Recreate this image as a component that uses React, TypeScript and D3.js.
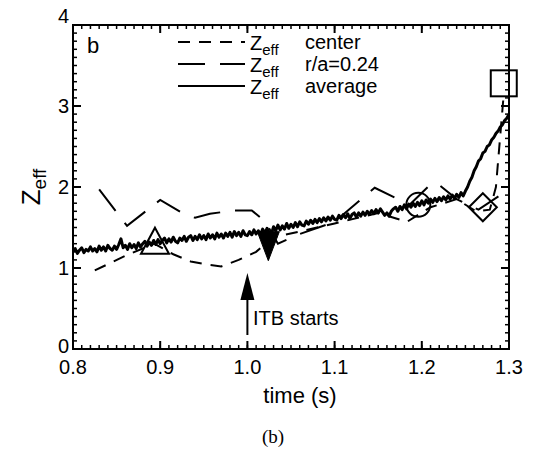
import React from "react";
import * as d3 from "d3";

const avgT = d3.range(0, 201).map((i) => +(0.8 + i * 0.0025).toFixed(4));
const avgZ = [
  1.2, 1.24, 1.18, 1.22, 1.25, 1.19, 1.23, 1.21, 1.26, 1.21,
  1.24, 1.2, 1.27, 1.22, 1.26, 1.21, 1.28, 1.24, 1.22, 1.27,
  1.23, 1.29, 1.36, 1.25, 1.28, 1.23, 1.3, 1.25, 1.29, 1.24,
  1.31, 1.26, 1.3, 1.33, 1.27, 1.32, 1.28, 1.34, 1.29, 1.35,
  1.3, 1.34, 1.37, 1.31, 1.36, 1.32, 1.38, 1.33, 1.31, 1.37,
  1.34, 1.39, 1.33, 1.38, 1.4, 1.34, 1.39, 1.35, 1.41, 1.36,
  1.4, 1.35, 1.42, 1.37, 1.41, 1.36, 1.43, 1.38, 1.42, 1.37,
  1.43, 1.39, 1.44, 1.38, 1.45, 1.4, 1.44, 1.39, 1.46, 1.41,
  1.4, 1.45, 1.41, 1.47, 1.42, 1.46, 1.41, 1.48, 1.43, 1.49,
  1.44, 1.42, 1.51, 1.46, 1.53, 1.47, 1.52, 1.48, 1.55, 1.49,
  1.54, 1.5, 1.56, 1.51, 1.57, 1.53, 1.52, 1.58, 1.54, 1.59,
  1.55, 1.6, 1.56, 1.61, 1.57, 1.62, 1.58, 1.63, 1.59, 1.64,
  1.6, 1.59, 1.65, 1.61, 1.66, 1.62, 1.67, 1.61, 1.66, 1.68,
  1.63, 1.68, 1.64, 1.69, 1.65, 1.7, 1.66, 1.71, 1.67, 1.72,
  1.68, 1.73, 1.69, 1.65, 1.68, 1.64, 1.7, 1.73, 1.75, 1.7,
  1.76, 1.72, 1.78, 1.73, 1.79, 1.75, 1.8, 1.76, 1.81, 1.77,
  1.83, 1.78, 1.84, 1.8, 1.85, 1.81, 1.86, 1.82, 1.87, 1.83,
  1.88, 1.84, 1.89, 1.85, 1.9, 1.86, 1.91, 1.87, 1.93, 1.89,
  1.95, 2.0, 2.07, 2.12, 2.2, 2.25, 2.32, 2.35, 2.42, 2.44,
  2.5, 2.52, 2.58, 2.61, 2.66, 2.69, 2.74, 2.77, 2.82, 2.85,
  2.9,
];

const raT = [0.83, 0.862, 0.9, 0.925, 0.94, 0.957, 0.985, 1.005, 1.02, 1.035, 1.06, 1.1, 1.146, 1.186, 1.207, 1.217, 1.24, 1.265, 1.3];
const raZ = [1.97, 1.52, 1.84, 1.68, 1.62, 1.67, 1.71, 1.71, 1.58, 1.3, 1.42, 1.57, 1.99, 1.78, 2.0, 2.05, 1.85, 1.72, 1.97];

const cenT = [0.825, 0.86, 0.893, 0.915, 0.935, 0.955, 0.97, 0.99, 1.01, 1.03, 1.06, 1.1, 1.15, 1.183, 1.21, 1.24, 1.262, 1.278, 1.285, 1.294];
const cenZ = [0.97, 1.15, 1.3, 1.17, 1.08, 1.04, 1.02, 1.1, 1.2, 1.38, 1.45, 1.55, 1.68, 1.57, 1.75, 1.85, 1.7, 1.72, 2.0, 3.15];

const markerT = [0.894, 1.024, 1.196, 1.27, 1.294];
const markerZ = [1.3, 1.3, 1.78, 1.75, 3.28];
const markerShape = ["triangle", "triangleDownFilled", "circle", "diamond", "square"];

const xTicks = [0.8, 0.9, 1.0, 1.1, 1.2, 1.3];
const xTickLabels = ["0.8", "0.9", "1.0", "1.1", "1.2", "1.3"];
const yTicks = [0, 1, 2, 3, 4];
const yTickLabels = ["0", "1", "2", "3", "4"];

const legendNames = ["center", "r/a=0.24", "average"];

const W = 547, H = 451;
const L = 73, R = 509, T = 25, B = 349;

export default function App() {
  const x = d3.scaleLinear().domain([0.8, 1.3]).range([L, R]);
  const y = d3.scaleLinear().domain([0, 4]).range([B, T]);
  const line = d3.line<[number, number]>().x((d) => x(d[0])).y((d) => y(d[1]));
  const avgPts = avgT.map((t, i) => [t, avgZ[i]] as [number, number]);
  const raPts = raT.map((t, i) => [t, raZ[i]] as [number, number]);
  const cenPts = cenT.map((t, i) => [t, cenZ[i]] as [number, number]);
  const font = "'Liberation Sans', Arial, Helvetica, sans-serif";
  const xMinor = d3.range(0, 51).map((i) => 0.8 + i * 0.01);
  const yMinor = d3.range(0, 41).map((i) => i * 0.1);

  const marker = (shape: string, cx: number, cy: number, k: number) => {
    switch (shape) {
      case "triangle":
        return <path key={k} d={`M${cx},${cy - 16}L${cx + 14},${cy + 10}L${cx - 14},${cy + 10}Z`} fill="none" stroke="#000" strokeWidth={2} />;
      case "triangleDownFilled":
        return <path key={k} d={`M${cx - 11},${cy - 12}L${cx + 11},${cy - 12}L${cx},${cy + 17}Z`} fill="#000" stroke="#000" strokeWidth={1} />;
      case "circle":
        return <circle key={k} cx={cx} cy={cy} r={12} fill="none" stroke="#000" strokeWidth={2} />;
      case "diamond":
        return <path key={k} d={`M${cx},${cy - 14}L${cx + 14},${cy}L${cx},${cy + 14}L${cx - 14},${cy}Z`} fill="none" stroke="#000" strokeWidth={2} />;
      default:
        return <rect key={k} x={cx - 13} y={cy - 13} width={26} height={26} fill="none" stroke="#000" strokeWidth={2} />;
    }
  };

  const legendDash = ["12,9", "27,15", "none"];

  return (
    <svg width={W} height={H} style={{ position: "absolute", left: 0, top: 0, background: "#fff" }} fontFamily={font}>
      <rect x={0} y={0} width={W} height={H} fill="#fff" />
      <defs>
        <clipPath id="plotclip">
          <rect x={L} y={T} width={R - L} height={B - T} />
        </clipPath>
      </defs>
      {xMinor.map((t, i) => (
        <g key={"xm" + i}>
          <line x1={x(t)} x2={x(t)} y1={B} y2={B - 4} stroke="#000" strokeWidth={1.5} />
          <line x1={x(t)} x2={x(t)} y1={T} y2={T + 4} stroke="#000" strokeWidth={1.5} />
        </g>
      ))}
      {xTicks.map((t, i) => (
        <g key={"xt" + i}>
          <line x1={x(t)} x2={x(t)} y1={B} y2={B - 8} stroke="#000" strokeWidth={2} />
          <line x1={x(t)} x2={x(t)} y1={T} y2={T + 8} stroke="#000" strokeWidth={2} />
          <text x={x(t)} y={374} textAnchor="middle" fontSize={20}>{xTickLabels[i]}</text>
        </g>
      ))}
      {yMinor.map((v, i) => (
        <g key={"ym" + i}>
          <line x1={L} x2={L + 4} y1={y(v)} y2={y(v)} stroke="#000" strokeWidth={1.5} />
          <line x1={R} x2={R - 4} y1={y(v)} y2={y(v)} stroke="#000" strokeWidth={1.5} />
        </g>
      ))}
      {yTicks.map((v, i) => (
        <g key={"yt" + i}>
          <line x1={L} x2={L + 8} y1={y(v)} y2={y(v)} stroke="#000" strokeWidth={2} />
          <line x1={R} x2={R - 8} y1={y(v)} y2={y(v)} stroke="#000" strokeWidth={2} />
          <text x={L - 4} y={y(v) + 7 + (v === 4 ? -9 : v === 0 ? -3 : 0)} textAnchor="end" fontSize={20}>{yTickLabels[i]}</text>
        </g>
      ))}
      <rect x={L} y={T} width={R - L} height={B - T} fill="none" stroke="#000" strokeWidth={2} />

      <g clipPath="url(#plotclip)">
        <path d={line(cenPts) || ""} fill="none" stroke="#000" strokeWidth={2} strokeDasharray="12,9" />
        <path d={line(raPts) || ""} fill="none" stroke="#000" strokeWidth={2} strokeDasharray="27,15" />
        <path d={line(avgPts) || ""} fill="none" stroke="#000" strokeWidth={3} strokeLinejoin="round" />
      </g>
      {markerT.map((t, i) => marker(markerShape[i], x(t), y(markerZ[i]), i))}

      <line x1={x(1.0)} x2={x(1.0)} y1={335} y2={290} stroke="#000" strokeWidth={2} />
      <path d={`M${x(1.0)},${273}L${x(1.0) + 7},${300}L${x(1.0) - 7},${300}Z`} fill="#000" />
      <text x={253} y={325} fontSize={20}>ITB starts</text>

      <text x={87} y={53} fontSize={22}>b</text>

      {legendNames.map((n, i) => {
        const ly = 42 + i * 22;
        return (
          <g key={"lg" + i}>
            <line x1={178} x2={245} y1={ly} y2={ly} stroke="#000" strokeWidth={2} strokeDasharray={legendDash[i] === "none" ? undefined : legendDash[i]} />
            <text x={250} y={ly + 8} fontSize={20}>Z<tspan fontSize={15} dy={5}>eff</tspan></text>
            <text x={305} y={ly + 7} fontSize={20}>{n}</text>
          </g>
        );
      })}

      <text x={300} y={403} textAnchor="middle" fontSize={22}>time (s)</text>
      <text transform={`translate(40,187) rotate(-90)`} textAnchor="middle" fontSize={26}>Z<tspan fontSize={19} dy={6}>eff</tspan></text>
      <text x={273} y={443} textAnchor="middle" fontSize={19} fontFamily="'Liberation Serif', 'Times New Roman', serif">(b)</text>
    </svg>
  );
}
